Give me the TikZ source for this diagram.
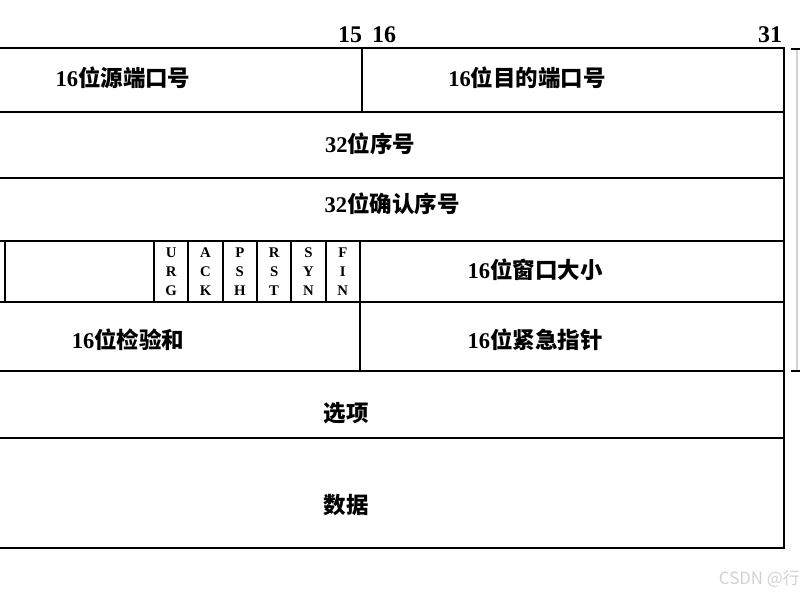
\documentclass[tikz,border=0pt]{standalone}
\usepackage{fontspec}
\setmainfont{Liberation Serif}
\newfontfamily\cjk{Noto Sans CJK SC}
\usetikzlibrary{positioning}

\newcommand{\hz}[1]{{\cjk #1}}

\begin{document}
\begin{tikzpicture}[x=0.025cm, y=-0.025cm, line width=1.4pt,
    field/.style={font=\fontsize{16}{18}\selectfont\bfseries, inner sep=1pt},
    bitno/.style={font=\fontsize{17}{19}\selectfont\bfseries, inner sep=1pt},
    flagbox/.style={draw, minimum width=0.858cm, minimum height=1.525cm, inner sep=0pt,
        align=center, font=\fontsize{10.5}{13.5}\selectfont\bfseries}]
                \useasboundingbox (0,0) rectangle (800,600);
                \clip (0,0) rectangle (800,600);

                % bit numbers
                \node[bitno] (b15) at (350,35) {15};
                \node[bitno] (b16) at (384,35) {16};
                \node[bitno] (b31) at (770,35) {31};

                % rows
                \draw (0,48) -- (784,48) -- (784,548) -- (0,548);
                \foreach \y in {112,178,241,302,371,438}
                    \draw (0,\y) -- (784,\y);
                \draw (362,48) -- (362,112);
                \draw (360,302) -- (360,371);
                \draw (5,241) -- (5,302);

                % flags
                \foreach \a/\b/\c [count=\i] in {U/R/G, A/C/K, P/S/H, R/S/T, S/Y/N, F/I/N}
                    \node[flagbox] (flag\i) at ({154+34.33*(\i-0.5)},271.5) {\a\\\b\\\c};

                % fields
                \node[field] (src) at (123,78) {16\hz{位源端口号}};
                \node[field] (dst) at (527,78) {16\hz{位目的端口号}};
                \node[field] (seq) at (370,144) {32\hz{位序号}};
                \node[field] (ack) at (392,204) {32\hz{位确认序号}};
                \node[field] (win) at (535,270) {16\hz{位窗口大小}};
                \node[field] (sum) at (128,340) {16\hz{位检验和}};
                \node[field] (urp) at (535,340) {16\hz{位紧急指针}};
                \node[field] (opt) at (346,413) {\hz{选项}};
                \node[field] (dat) at (346,505) {\hz{数据}};

                % bracket on the right
                \draw[gray!35, line width=0.8pt] (797,49) -- (797,371);
                \draw (791,49) -- (800,49);
                \draw (791,371) -- (800,371);

                \node[anchor=west, text=gray!35, inner sep=0pt,
                    font=\cjk\fontsize{12}{14}\selectfont] (mark) at (718,579) {CSDN @行};
            \end{tikzpicture}
\end{document}
